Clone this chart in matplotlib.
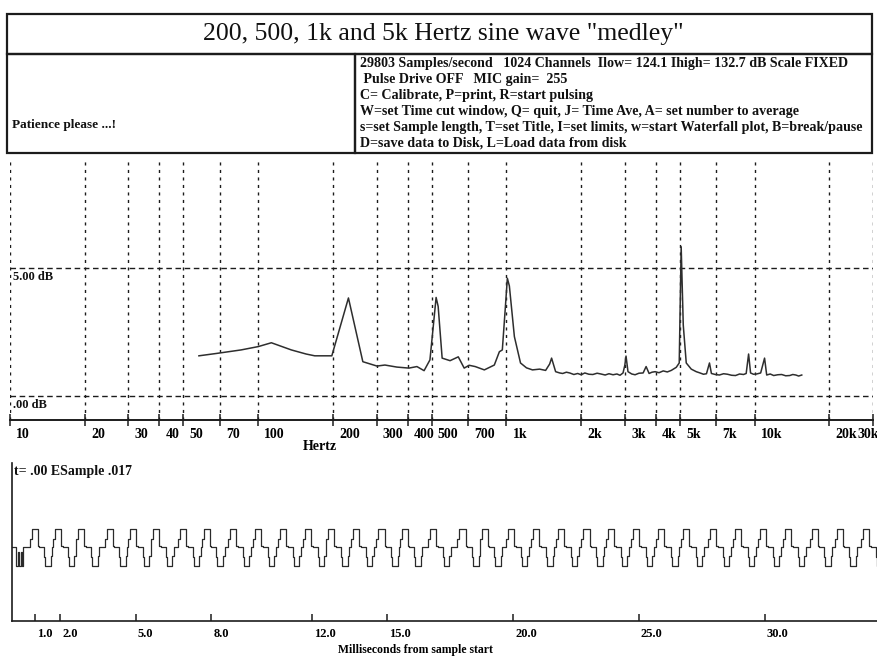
import numpy as np
import matplotlib
matplotlib.use("Agg")
import matplotlib.pyplot as plt
from matplotlib.patches import Rectangle
from matplotlib.ticker import NullLocator
from matplotlib.transforms import ScaledTranslation, blended_transform_factory

# ---------------- data ----------------
title_text = '200, 500, 1k and 5k Hertz sine wave "medley"'
status_text = "Patience please ...!"
info_lines = [
    "29803 Samples/second   1024 Channels  Ilow= 124.1 Ihigh= 132.7 dB Scale FIXED",
    " Pulse Drive OFF   MIC gain=  255",
    "C= Calibrate, P=print, R=start pulsing",
    "W=set Time cut window, Q= quit, J= Time Ave, A= set number to average",
    "s=set Sample length, T=set Title, I=set limits, w=start Waterfall plot, B=break/pause",
    "D=save data to Disk, L=Load data from disk",
]
info_y = [63, 80, 95, 111, 127, 143]

freq_ticks = [10, 20, 30, 40, 50, 70, 100, 200, 300, 400, 500, 700,
              1000, 2000, 3000, 4000, 5000, 7000, 10000, 20000, 30000]
freq_labels = ["10", "20", "30", "40", "50", "70", "100", "200", "300", "400", "500", "700",
               "1k", "2k", "3k", "4k", "5k", "7k", "10k", "20k", "30k"]
db_ticks = [0, 5]
db_labels = [".00 dB", "5.00 dB"]

spec_freq = [57.7, 67.6, 85.3, 100, 113, 136, 156, 169, 198, 231, 264, 301, 324, 362,
             405, 436, 466, 492, 506, 521, 531, 551, 593, 640, 676, 708, 749, 815, 894,
             937, 963, 991, 1009, 1028, 1077, 1140, 1205, 1274, 1361, 1439, 1494, 1521,
             1579, 1640, 1686, 1745, 1800, 1870, 1938, 2000, 2070, 2150, 2230, 2320, 2404,
             2500, 2590, 2690, 2788, 2870, 2951, 3000, 3034, 3090,
             3200, 3300, 3420, 3556, 3656, 3758, 3860, 3974, 4120, 4285, 4450, 4617, 4835,
             4970, 5061, 5160, 5305,
             5558, 5822, 6030, 6223, 6400, 6580, 6700, 6950, 7215, 7500, 7779, 8080, 8380,
             8700, 9025, 9250, 9460, 9634, 9900, 10190, 10580,
             10970, 11190, 11560, 11940, 12400, 12860, 13350, 13860, 14250, 14660, 15050, 15490]
spec_db = [1.57, 1.66, 1.80, 1.93, 2.08, 1.80, 1.64, 1.57, 1.57, 3.83, 1.34, 1.17, 1.21, 1.13,
           1.09, 1.15, 0.99, 1.41, 2.60, 3.85, 3.50, 1.48, 1.38, 1.53, 1.09, 1.20, 1.15, 1.02, 1.21,
           1.73, 1.80, 3.50, 4.60, 4.30, 2.32, 1.29, 1.10, 1.02, 1.05, 1.00, 1.25, 1.48,
           0.95, 0.90, 0.88, 0.93, 0.90, 0.84, 0.88, 0.83, 0.90, 0.85, 0.84, 0.89, 0.86,
           0.82, 0.87, 0.83, 0.86, 0.81, 0.90, 1.20, 1.56, 0.95,
           0.86, 0.83, 0.89, 0.90, 1.15, 0.88, 0.93, 0.95, 0.91, 0.98, 0.94, 1.00, 1.12,
           1.29, 5.83, 2.77, 1.29,
           1.05, 0.95, 0.90, 0.85, 0.87, 1.29, 0.88, 0.84, 0.82, 0.87, 0.85, 0.81, 0.80,
           0.86, 0.84, 0.88, 1.64, 0.90, 0.85, 0.86, 0.90,
           1.48, 0.82, 0.86, 0.80, 0.83, 0.84, 0.79, 0.80, 0.84, 0.82, 0.78, 0.82]

time_ticks = [1.0, 2.0, 5.0, 8.0, 12.0, 15.0, 20.0, 25.0, 30.0]
time_labels = ["1.0", "2.0", "5.0", "8.0", "12.0", "15.0", "20.0", "25.0", "30.0"]

# lead-in of the waveform (ms, level)
lead_t = [0.08, 0.24, 0.30, 0.36, 0.42, 0.48, 0.52]
lead_v = [0.0, -1.05, -0.3, -1.05, -0.3, -1.05, 0.0]
# rising-edge times of each cycle (ms)
pulse_starts = [0.86, 1.79, 2.72, 3.84, 4.77, 5.70, 6.76, 7.71, 8.75, 9.74, 10.74, 11.73,
                12.66, 13.65, 14.65, 15.58, 16.70, 17.87, 18.75, 19.81, 20.81, 21.80,
                22.80, 23.79, 24.78, 25.78, 26.77, 27.83, 28.83, 29.82, 30.82, 31.87,
                32.87, 33.93]
# one cycle of the stepped wave, relative to its rising edge (ms, level)
cycle_t = [-0.08, 0.0, 0.24, 0.30, 0.50, 0.54, 0.76, 0.82]
cycle_v = [0.45, 1.0, 0.05, 0.0, -0.55, -1.05, -0.5, 0.0]

# ---------------- figure ----------------
W, H = 877, 657
fig = plt.figure(figsize=(W / 100, H / 100), dpi=100)
fig.patch.set_facecolor("white")
ink = "#1c1c1c"
serif = ["Liberation Serif", "DejaVu Serif"]


def fr(x0, y0, x1, y1):
    return [x0 / W, 1 - y1 / H, (x1 - x0) / W, (y1 - y0) / H]


# header boxes
for (x0, y0, x1, y1) in [(7, 14, 872, 54), (7, 54, 355, 153), (355, 54, 872, 153)]:
    fig.add_artist(Rectangle((x0 / W, 1 - y1 / H), (x1 - x0) / W, (y1 - y0) / H,
                             transform=fig.transFigure, fill=False, ec=ink, lw=1.6))
fig.text(443 / W, 1 - 34 / H, title_text, ha="center", va="center",
         fontsize=18.5, family=serif, color="#111")
fig.text(12 / W, 1 - 125 / H, status_text, ha="left", va="center",
         fontsize=9.5, family=serif, weight="bold", color="#111")
for yy, line in zip(info_y, info_lines):
    fig.text(360 / W, 1 - yy / H, line, ha="left", va="center",
             fontsize=10.1, family=serif, weight="bold", color="#111")

# ---------------- spectrum ----------------
ax1 = fig.add_axes(fr(10, 160, 873, 420))
ax1.plot(spec_freq, spec_db, color="#2e2e2e", lw=1.1)
ax1.set_xscale("log")
ax1.set_xlim(10, 30000)
ax1.set_ylim(-0.9375, 9.22)
ax1.set_xticks(freq_ticks)
ax1.set_xticklabels(freq_labels)
ax1.xaxis.set_minor_locator(NullLocator())
ax1.set_yticks(db_ticks)
ax1.set_yticklabels([])
ax1.tick_params(axis="y", length=0)
for s in ["top", "right", "left"]:
    ax1.spines[s].set_visible(False)
ax1.spines["bottom"].set_color(ink)
ax1.spines["bottom"].set_linewidth(1.4)
ax1.grid(axis="x", color=ink, lw=1.0, linestyle=(0, (2.2, 3.2)))
ax1.grid(axis="y", color=ink, lw=1.0, linestyle=(0, (4, 2.6)))
ax1.tick_params(axis="x", direction="inout", length=8, width=1.1, color=ink,
                pad=2, labelsize=10)
off = ScaledTranslation(4.5 / 72, 0, fig.dpi_scale_trans)
labs = ax1.get_xticklabels()
for lab in labs:
    lab.set_ha("left")
    lab.set_family(serif)
    lab.set_weight("bold")
    lab.set_transform(lab.get_transform() + off)
# last label sits at the figure edge: keep it visible
labs[-1].set_ha("right")
labs[-1].set_transform(labs[-1].get_transform()
                       + ScaledTranslation(-0.5 / 72, 0, fig.dpi_scale_trans))
tr = blended_transform_factory(ax1.transAxes, ax1.transData)
for v, lab in zip(db_ticks, db_labels):
    ax1.text(0.003, v - 0.12, lab, transform=tr, ha="left", va="top",
             fontsize=9, family=serif, weight="bold", color="#111")
ax1.set_xlabel("Hertz", family=serif, weight="bold", fontsize=10, labelpad=2)
ax1.xaxis.set_label_coords((320 - 10) / (873 - 10), -0.075)

# ---------------- time trace ----------------
t_all = list(lead_t)
v_all = list(lead_v)
for t0 in pulse_starts:
    for dt, v in zip(cycle_t, cycle_v):
        t_all.append(t0 + dt)
        v_all.append(v)
ax2 = fig.add_axes(fr(12, 463, 877, 621))
ax2.plot(t_all, v_all, drawstyle="steps-post", color="#2a2a2a", lw=0.9)
ax2.set_xlim(0.08, 34.47)
ax2.set_ylim(-4.11, 4.67)
ax2.set_xticks(time_ticks)
ax2.set_xticklabels(time_labels)
ax2.set_yticks([])
for s in ["top", "right"]:
    ax2.spines[s].set_visible(False)
for s in ["left", "bottom"]:
    ax2.spines[s].set_color(ink)
    ax2.spines[s].set_linewidth(1.2)
ax2.tick_params(axis="x", direction="in", length=5, width=1.1, color=ink,
                pad=5, labelsize=9)
off2 = ScaledTranslation(1.5 / 72, 0, fig.dpi_scale_trans)
for lab in ax2.get_xticklabels():
    lab.set_ha("left")
    lab.set_family(serif)
    lab.set_weight("bold")
    lab.set_transform(lab.get_transform() + off2)
ax2.text(0.002, 0.99, "t= .00 ESample .017", transform=ax2.transAxes, ha="left",
         va="top", fontsize=10, family=serif, weight="bold", color="#111")
ax2.set_xlabel("Milliseconds from sample start", family=serif, weight="bold",
               fontsize=8.5, labelpad=1)
ax2.xaxis.set_label_coords((415 - 12) / 865, -0.145)

fig.savefig("out.png", dpi=100)
